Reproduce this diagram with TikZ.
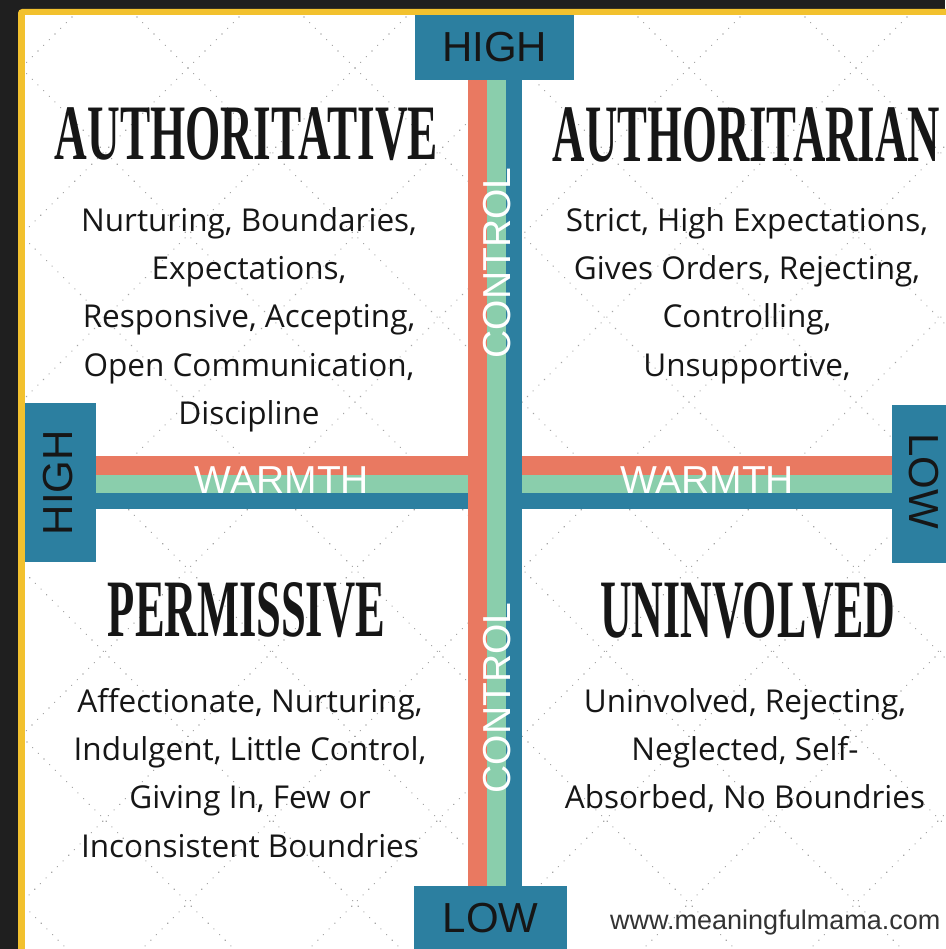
\documentclass[tikz,border=0pt]{standalone}
\usepackage{fontspec}
\setmainfont{Open Sans}
\newfontfamily\labelfont{Liberation Sans}
\newfontfamily\titlefont{Liberation Serif}
\usepackage{graphicx}
\usetikzlibrary{calc}
\usetikzlibrary{positioning}
\definecolor{frame}{RGB}{31,31,31}
\definecolor{rim}{RGB}{242,193,46}
\definecolor{sal}{RGB}{233,121,97}
\definecolor{mint}{RGB}{138,206,172}
\definecolor{sea}{RGB}{44,127,160}
\definecolor{ink}{RGB}{22,22,22}

\begin{document}
\begin{tikzpicture} [
    x=1pt, y=-1pt,
    endbox/.style={
        fill=sea, inner sep=0pt, text=ink,
        font=\labelfont\fontsize{42}{42}\selectfont
    },
    axis/.style={
        inner sep=0pt, text=white,
        font=\labelfont\fontsize{39}{39}\selectfont
    },
    ttl/.style={inner sep=0pt, text=ink},
    desc/.style={
        align=center, inner sep=0pt, anchor=north, text=ink,
        font=\fontsize{31.5}{48.3}\selectfont
    },
    pat/.style={
        black!35, line width=1.5pt, line cap=round,
        dash pattern=on 0.01pt off 8pt
    }
]

\useasboundingbox (0,0) rectangle (945,949);

% frame
\fill [frame] (0,0) rectangle (945,949);
\fill [rim,rounded corners=4pt] (18,9) rectangle (970,970);
\fill [white] (25,15) rectangle (970,970);

% dotted trellis
\begin{scope}
\clip (25,15) rectangle (945,949);
\foreach \k in {-1,...,12}
    \draw [pat] (89+167*\k, 0) -- ++(-1000, 1000);
\foreach \k in {-7,...,6}
    \draw [pat] (120+167*\k, 0) -- ++(1000, 1000);
\end{scope}

\node [endbox,minimum width=159pt,minimum height=65pt] (highTop) at (494.5, 47.5) {HIGH};
\node [endbox,minimum width=71pt,minimum height=159pt] (highLeft) at (60.5, 482.5) {};
\node [endbox,minimum width=71pt,minimum height=158pt] (lowRight) at (927.5, 484) {};
\node [endbox,minimum width=153pt,minimum height=65pt] (lowBottom) at (490.5, 918.5) {LOW};
\node [endbox,fill=none,rotate=90] (highLeftText) at ($(highLeft.center)+(-2,0)$) {HIGH};
\node [endbox,fill=none,rotate=-90] (lowRightText) at ($(lowRight.center)+(-4,-3)$) {LOW};

% warmth bar
\fill [sal]  (highLeft.east |- 0,456) rectangle (lowRight.west |- 0,475);
\fill [mint] (highLeft.east |- 0,475) rectangle (lowRight.west |- 0,493);
\fill [sea]  (highLeft.east |- 0,493) rectangle (lowRight.west |- 0,509);

% control bar
\fill [sal]  (468,0 |- highTop.south) rectangle (487,0 |- lowBottom.north);
\fill [mint] (487,0 |- highTop.south) rectangle (506,0 |- lowBottom.north);
\fill [sea]  (506,0 |- highTop.south) rectangle (522,0 |- lowBottom.north);

\node [axis] (warmL) at (282, 480) {WARMTH};
\node [axis] (warmR) at (707, 480) {WARMTH};
\node [axis,rotate=90] (ctrlT) at (497, 263) {CONTROL};
\node [axis,rotate=90] (ctrlB) at (497, 698) {CONTROL};

% quadrant titles
\node [ttl] (authoritative) at (246.5, 134)
    {\resizebox{383pt}{52pt}{\titlefont\bfseries AUTHORITATIVE}};
\node [ttl] (authoritarian) at (746.5, 135)
    {\resizebox{387pt}{54pt}{\titlefont\bfseries AUTHORITARIAN}};
\node [ttl] (permissive) at (246.5, 610)
    {\resizebox{277pt}{54pt}{\titlefont\bfseries PERMISSIVE}};
\node [ttl] (uninvolved) at (747.5, 610.5)
    {\resizebox{295pt}{55pt}{\titlefont\bfseries UNINVOLVED}};

% quadrant texts
\node [desc] (authoritativeText) at (249, 207)
    {Nurturing, Boundaries,\\Expectations,\\Responsive, Accepting,\\Open Communication,\\Discipline};
\node [desc] (authoritarianText) at (747, 207)
    {Strict, High Expectations,\\Gives Orders, Rejecting,\\Controlling,\\Unsupportive,};
\node [desc] (permissiveText) at (250, 688)
    {Affectionate, Nurturing,\\Indulgent, Little Control,\\Giving In, Few or\\Inconsistent Boundries};
\node [desc] (uninvolvedText) at (745, 688)
    {Uninvolved, Rejecting,\\Neglected, Self-\\Absorbed, No Boundries};

\node [anchor=west,inner sep=0pt,text=black!80,font=\labelfont\fontsize{27}{27}\selectfont]
    (site) at (610, 923) {www.meaningfulmama.com};

\end{tikzpicture}
\end{document}
